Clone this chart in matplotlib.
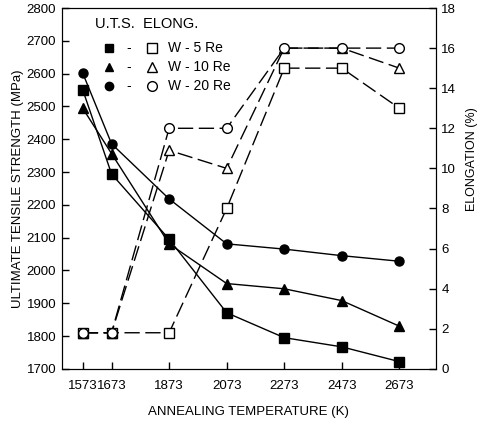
import matplotlib.pyplot as plt

plt.rcParams['font.family'] = ['Liberation Sans', 'DejaVu Sans']

temps = [1573, 1673, 1873, 2073, 2273, 2473, 2673]
xtick_labels = ['1573', '1673', '1873', '2073', '2273', '2473', '2673']

# ultimate tensile strength (MPa)
uts_w5 = [2550, 2294, 2095, 1871, 1795, 1767, 1722]
uts_w10 = [2494, 2356, 2081, 1960, 1944, 1908, 1830]
uts_w20 = [2601, 2386, 2218, 2081, 2065, 2045, 2028]

# elongation (%)
el_w5 = [1.8, 1.8, 1.8, 8.0, 15.0, 15.0, 13.0]
el_w10 = [1.8, 1.8, 10.9, 10.0, 16.0, 16.0, 15.0]
el_w20 = [1.8, 1.8, 12.0, 12.0, 16.0, 16.0, 16.0]

labels = ['W - 5 Re', 'W - 10 Re', 'W - 20 Re']
markers = ['s', '^', 'o']

fig = plt.figure(figsize=(4.79, 4.22), dpi=100)
ax = fig.add_axes([0.129, 0.126, 0.781, 0.855])
ax2 = ax.twinx()

dash = (0, (11, 4))
for el, m in zip([el_w5, el_w10, el_w20], markers):
    ax2.plot(temps, el, color='black', lw=1.0, ls=dash, marker=m,
             ms=7, mfc='white', mec='black', mew=1.0)

for uts, m in zip([uts_w5, uts_w10, uts_w20], markers):
    ax.plot(temps, uts, color='black', lw=1.0, marker=m, ms=6.5,
            mfc='black', mec='black', zorder=3)

ax.set_xlim(1500, 2800)
ax.set_ylim(1700, 2800)
ax2.set_ylim(0, 18)
ax.set_xticks(temps)
ax.set_xticklabels(xtick_labels)
ax.set_yticks(range(1700, 2801, 100))
ax2.set_yticks(range(0, 19, 2))

for a in (ax, ax2):
    a.tick_params(direction='in', length=5, width=1, labelsize=9.5, pad=4)
ax.tick_params(axis='x', pad=8)

ax.set_xlabel('ANNEALING TEMPERATURE (K)', fontsize=9.5, labelpad=10)
ax.set_ylabel('ULTIMATE TENSILE STRENGTH (MPa)', fontsize=9.5, labelpad=2)
ax2.set_ylabel('ELONGATION (%)', fontsize=9, rotation=90)
ax2.yaxis.set_label_coords(1.08, 0.58)

# legend drawn by hand
ax.text(0.09, 0.955, 'U.T.S.  ELONG.', transform=ax.transAxes,
        fontsize=10.5, va='center')
rows = [0.89, 0.837, 0.785]
for y, m, lab in zip(rows, markers, labels):
    ax.plot([0.125], [y], transform=ax.transAxes, marker=m, ms=6,
            color='black', ls='none')
    ax.text(0.18, y, '-', transform=ax.transAxes, fontsize=10,
            va='center', ha='center')
    ax.plot([0.24], [y], transform=ax.transAxes, marker=m, ms=7,
            mfc='white', mec='black', ls='none')
    ax.text(0.285, y, lab, transform=ax.transAxes, fontsize=10,
            va='center')

fig.savefig('out.png', dpi=100)
